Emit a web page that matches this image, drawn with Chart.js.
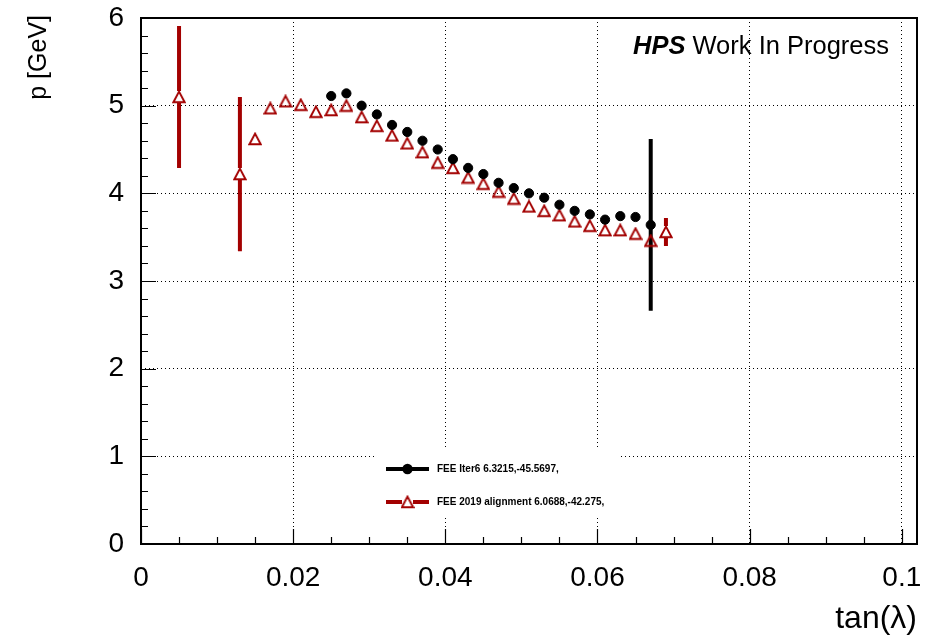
<!DOCTYPE html>
<html>
<head>
<meta charset="utf-8">
<script src="https://cdn.jsdelivr.net/npm/chart.js@4.4.1/dist/chart.umd.min.js"></script>
<style>
  html, body { margin: 0; padding: 0; background: #fff; }
  canvas { display: block; }
</style>
</head>
<body>
<canvas id="chart" width="930" height="640"></canvas>
<script>
// axis labels
const xTickLabels = ['0', '0.02', '0.04', '0.06', '0.08', '0.1'];
const yTickLabels = ['0', '1', '2', '3', '4', '5', '6'];

// FEE Iter6
const iterLabel = 'FEE Iter6 6.3215,-45.5697,';
const iterX = [0.025, 0.027, 0.029, 0.031, 0.033, 0.035, 0.037, 0.039, 0.041, 0.043, 0.045,
               0.047, 0.049, 0.051, 0.053, 0.055, 0.057, 0.059, 0.061, 0.063, 0.065, 0.067];
const iterP = [5.11, 5.14, 5.00, 4.90, 4.78, 4.70, 4.60, 4.50, 4.39, 4.29, 4.22,
               4.12, 4.06, 4.00, 3.95, 3.87, 3.80, 3.76, 3.70, 3.74, 3.73, 3.64];
const iterErr = [0, 0, 0, 0, 0, 0, 0, 0, 0, 0, 0,
                 0, 0, 0, 0, 0, 0, 0, 0, 0, 0, 0.98];

// FEE 2019 alignment
const alignLabel = 'FEE 2019 alignment 6.0688,-42.275,';
const alignX = [0.005, 0.013, 0.015, 0.017, 0.019, 0.021, 0.023, 0.025, 0.027, 0.029, 0.031,
                0.033, 0.035, 0.037, 0.039, 0.041, 0.043, 0.045, 0.047, 0.049, 0.051, 0.053,
                0.055, 0.057, 0.059, 0.061, 0.063, 0.065, 0.067, 0.069];
const alignP = [5.10, 4.22, 4.62, 4.97, 5.05, 5.01, 4.93, 4.95, 5.00, 4.87, 4.77,
                4.66, 4.57, 4.47, 4.35, 4.29, 4.18, 4.11, 4.02, 3.94, 3.85, 3.80,
                3.75, 3.68, 3.63, 3.58, 3.58, 3.54, 3.46, 3.56];
const alignErr = [0.81, 0.88, 0, 0, 0, 0, 0, 0, 0, 0, 0,
                  0, 0, 0, 0, 0, 0, 0, 0, 0, 0, 0,
                  0, 0, 0, 0, 0, 0, 0, 0.16];

const FONT = '"Liberation Sans", Arial, Helvetica, sans-serif';
const BLACK = '#000000';
const RED = '#a30000';

// open triangle marker, box-centred like ROOT style 26
function makeTriangle(color) {
  const c = document.createElement('canvas');
  c.width = 14; c.height = 14;
  const g = c.getContext('2d');
  g.strokeStyle = color;
  g.lineWidth = 1.9;
  g.lineJoin = 'miter';
  g.beginPath();
  g.moveTo(7, 1.6);
  g.lineTo(12.6, 12.2);
  g.lineTo(1.4, 12.2);
  g.closePath();
  g.stroke();
  return c;
}
const triangle = makeTriangle(RED);

const toPoints = (xs, ys) => xs.map((x, i) => ({ x: x, y: ys[i] }));

const rootStyle = {
  id: 'rootStyle',
  beforeDatasetsDraw(chart) {
    const { ctx, scales: { x, y } } = chart;
    chart.data.datasets.forEach(ds => {
      ctx.save();
      ctx.strokeStyle = ds.borderColor;
      ctx.lineWidth = 4;
      ds.data.forEach((pt, i) => {
        const e = ds.errY[i];
        if (!e) return;
        const px = x.getPixelForValue(pt.x);
        const top = y.getPixelForValue(pt.y + e);
        const mid = y.getPixelForValue(pt.y);
        const bot = y.getPixelForValue(pt.y - e);
        ctx.beginPath();
        ctx.moveTo(px, top);
        ctx.lineTo(px, mid - ds.barGap);
        ctx.moveTo(px, mid + ds.barGap);
        ctx.lineTo(px, bot);
        ctx.stroke();
      });
      ctx.restore();
    });
  },
  afterDraw(chart) {
    const { ctx, chartArea: a, scales: { x, y } } = chart;
    ctx.save();

    // inward tick marks on left and bottom
    ctx.strokeStyle = BLACK;
    ctx.lineWidth = 1.2;
    ctx.beginPath();
    for (let k = 0; k <= 30; k++) {
      const py = Math.round(y.getPixelForValue(k * 0.2)) + 0.5;
      const len = k % 5 === 0 ? 15 : 7;
      ctx.moveTo(a.left, py);
      ctx.lineTo(a.left + len, py);
    }
    for (let k = 0; k <= 20; k++) {
      const px = Math.round(x.getPixelForValue(k * 0.005)) + 0.5;
      const len = k % 4 === 0 ? 15 : 7;
      ctx.moveTo(px, a.bottom);
      ctx.lineTo(px, a.bottom - len);
    }
    ctx.stroke();

    // frame
    ctx.lineWidth = 2;
    ctx.strokeRect(a.left, a.top, a.right - a.left, a.bottom - a.top);

    // legend
    const lx = 374, ly = 450, lw = 247, lh = 67;
    ctx.fillStyle = '#ffffff';
    ctx.fillRect(lx, ly, lw, lh);
    const rows = [
      { ds: chart.data.datasets[0], yy: 469 },
      { ds: chart.data.datasets[1], yy: 502 }
    ];
    rows.forEach(r => {
      ctx.strokeStyle = r.ds.borderColor;
      ctx.lineWidth = 4;
      ctx.beginPath();
      ctx.moveTo(386, r.yy);
      ctx.lineTo(429, r.yy);
      ctx.stroke();
      if (r.ds.pointStyle === 'circle') {
        ctx.fillStyle = r.ds.backgroundColor;
        ctx.beginPath();
        ctx.arc(407.5, r.yy, 5.2, 0, Math.PI * 2);
        ctx.fill();
      } else {
        ctx.fillStyle = '#ffffff';
        ctx.fillRect(402, r.yy - 6, 11, 12);
        ctx.drawImage(r.ds.pointStyle, 400.5, r.yy - 7);
      }
      ctx.fillStyle = BLACK;
      ctx.font = 'bold 10px ' + FONT;
      ctx.textAlign = 'left';
      ctx.textBaseline = 'middle';
      ctx.fillText(r.ds.label, 437, r.yy + 0.5);
    });

    // axis titles
    ctx.fillStyle = BLACK;
    ctx.font = '32px ' + FONT;
    ctx.textAlign = 'right';
    ctx.textBaseline = 'alphabetic';
    ctx.fillText('tan(\u03bb)', 917, 628);

    ctx.save();
    ctx.translate(46, 15);
    ctx.rotate(-Math.PI / 2);
    ctx.font = '25px ' + FONT;
    ctx.textAlign = 'right';
    ctx.fillText('p [GeV]', 0, 0);
    ctx.restore();

    // header text
    ctx.textAlign = 'left';
    ctx.font = 'italic bold 25.5px ' + FONT;
    ctx.fillText('HPS', 633, 54);
    const w = ctx.measureText('HPS ').width;
    ctx.font = '25.5px ' + FONT;
    ctx.fillText('Work In Progress', 633 + w, 54);

    ctx.restore();
  }
};

new Chart(document.getElementById('chart'), {
  type: 'scatter',
  data: {
    datasets: [{
      label: iterLabel,
      data: toPoints(iterX, iterP),
      errY: iterErr,
      barGap: 0,
      pointStyle: 'circle',
      pointRadius: 4.6,
      pointBorderWidth: 1,
      backgroundColor: BLACK,
      borderColor: BLACK
    }, {
      label: alignLabel,
      data: toPoints(alignX, alignP),
      errY: alignErr,
      barGap: 6,
      pointStyle: triangle,
      pointRadius: 7,
      backgroundColor: RED,
      borderColor: RED
    }]
  },
  options: {
    responsive: false,
    animation: false,
    events: [],
    layout: { padding: { top: 18, right: 13, left: 0, bottom: 0 } },
    plugins: { legend: { display: false }, tooltip: { enabled: false } },
    scales: {
      x: {
        type: 'linear',
        min: 0,
        max: 0.102,
        afterFit: s => { s.height = 96; s.paddingLeft = 0; s.paddingRight = 0; },
        ticks: {
          stepSize: 0.02,
          includeBounds: false,
          padding: 17,
          color: BLACK,
          font: { family: FONT, size: 28 },
          maxRotation: 0,
          callback: v => xTickLabels[Math.round(v / 0.02)]
        },
        grid: { color: BLACK, lineWidth: 1, drawTicks: false },
        border: { display: false, dash: [1, 3] }
      },
      y: {
        type: 'linear',
        min: 0,
        max: 6,
        afterFit: s => { s.width = 141; s.paddingTop = 0; s.paddingBottom = 0; },
        ticks: {
          stepSize: 1,
          padding: 17,
          color: BLACK,
          font: { family: FONT, size: 28 },
          callback: v => yTickLabels[Math.round(v)]
        },
        grid: { color: BLACK, lineWidth: 1, drawTicks: false },
        border: { display: false, dash: [1, 3] }
      }
    }
  },
  plugins: [rootStyle]
});
</script>
</body>
</html>
